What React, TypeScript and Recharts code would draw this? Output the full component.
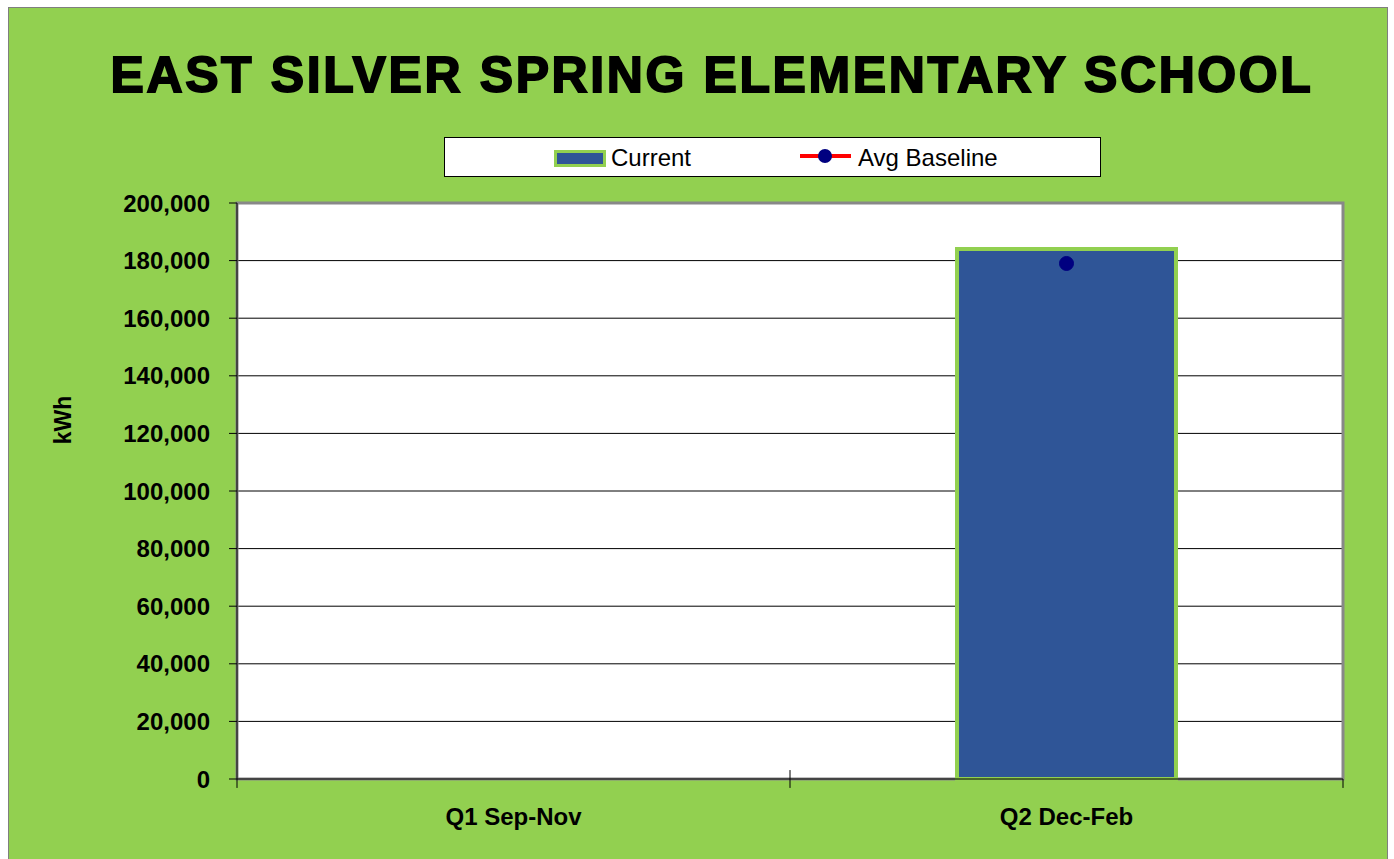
import {
  ComposedChart, Bar, Line, XAxis, YAxis, CartesianGrid, ReferenceArea, ReferenceLine
} from 'recharts'

const categories = ['Q1 Sep-Nov', 'Q2 Dec-Feb']
const current: (number | null)[] = [null, 184000]
const avgBaseline: (number | null)[] = [null, 179000]
const yTicks = [0, 20000, 40000, 60000, 80000, 100000, 120000, 140000, 160000, 180000, 200000]

const data = categories.map((q, i) => ({ quarter: q, current: current[i], baseline: avgBaseline[i] }))

const GREEN = '#92D050'
const BLUE = '#2F5597'
const FONT = '"Liberation Sans", Arial, sans-serif'

function ChartLegend() {
  return (
    <div style={{
      position: 'absolute', left: 435, top: 129, width: 655, height: 38,
      background: '#fff', border: '1px solid #000', fontFamily: FONT, fontSize: 24,
    }}>
      <div style={{ position: 'absolute', left: 109, top: 12, width: 46, height: 11, background: BLUE, border: `3px solid ${GREEN}` }} />
      <span style={{ position: 'absolute', left: 166, top: 6 }}>Current</span>
      <div style={{ position: 'absolute', left: 355, top: 16, width: 51, height: 4, background: '#FF0000' }} />
      <div style={{ position: 'absolute', left: 373, top: 11, width: 14, height: 14, borderRadius: 7, background: '#000080' }} />
      <span style={{ position: 'absolute', left: 413, top: 6 }}>Avg Baseline</span>
    </div>
  )
}

export default function App() {
  return (
    <div style={{ position: 'fixed', left: 8, top: 7, width: 1380, height: 852, overflow: 'hidden' }}>
      <div style={{
        position: 'relative', width: 1378, height: 858, background: GREEN,
        border: '1px solid #7f7f7f', fontFamily: FONT,
      }}>
        <div style={{
          position: 'absolute', left: 14, top: 38, width: 1378, textAlign: 'center',
          fontSize: 50, fontWeight: 'bold', color: '#000', WebkitTextStroke: '1.8px #000',
          letterSpacing: 2.6, whiteSpace: 'nowrap',
        }}>
          EAST SILVER SPRING ELEMENTARY SCHOOL
        </div>
        <ChartLegend />
        <div style={{
          position: 'absolute', left: 64 - 9 - 30, top: 421 - 9 - 14, width: 60, height: 28,
          transform: 'rotate(-90deg)', textAlign: 'center', fontSize: 23, fontWeight: 'bold',
        }}>
          kWh
        </div>
        <ComposedChart width={1378} height={851} data={data}
          margin={{ top: 195, right: 44, left: 128, bottom: 30 }}>
          <CartesianGrid vertical={false} stroke="#000" fill="#fff" fillOpacity={1} />
          <ReferenceArea yAxisId={0} y1={0} y2={200000} fill="none" stroke="#888" strokeWidth={3} ifOverflow="visible" />
          <XAxis dataKey="quarter" height={50} tickLine={false} axisLine={{ stroke: '#000' }}
            tickSize={0} tickMargin={29}
            tick={{ fill: '#000', fontSize: 24, fontWeight: 'bold', fontFamily: FONT }} />
          <YAxis domain={[0, 200000]} ticks={yTicks} interval={0} width={100}
            tickFormatter={(v: number) => v.toLocaleString('en-US')}
            axisLine={{ stroke: '#000' }} tickLine={{ stroke: '#000' }} tickSize={8} tickMargin={19}
            tick={{ fill: '#000', fontSize: 24, fontWeight: 'bold', fontFamily: FONT }} />
          <Bar dataKey="current" name="Current" fill={BLUE} stroke={GREEN} strokeWidth={4}
            barSize={219} isAnimationActive={false} />
          <Line dataKey="baseline" name="Avg Baseline" stroke="#FF0000" strokeWidth={4}
            dot={{ r: 7, fill: '#000080', stroke: '#000080', strokeWidth: 1 }}
            connectNulls={false} isAnimationActive={false} />
          <ReferenceLine segment={[{ x: categories[1], y: 3100 }, { x: categories[1], y: -3100 }]}
            position="start" stroke="#000" ifOverflow="visible" />
          <ReferenceLine segment={[{ x: categories[1], y: 0 }, { x: categories[1], y: -3100 }]}
            position="end" stroke="#000" ifOverflow="visible" />
          <ReferenceLine segment={[{ x: categories[0], y: 0 }, { x: categories[0], y: -3100 }]}
            position="start" stroke="#000" ifOverflow="visible" />
        </ComposedChart>
      </div>
    </div>
  )
}
